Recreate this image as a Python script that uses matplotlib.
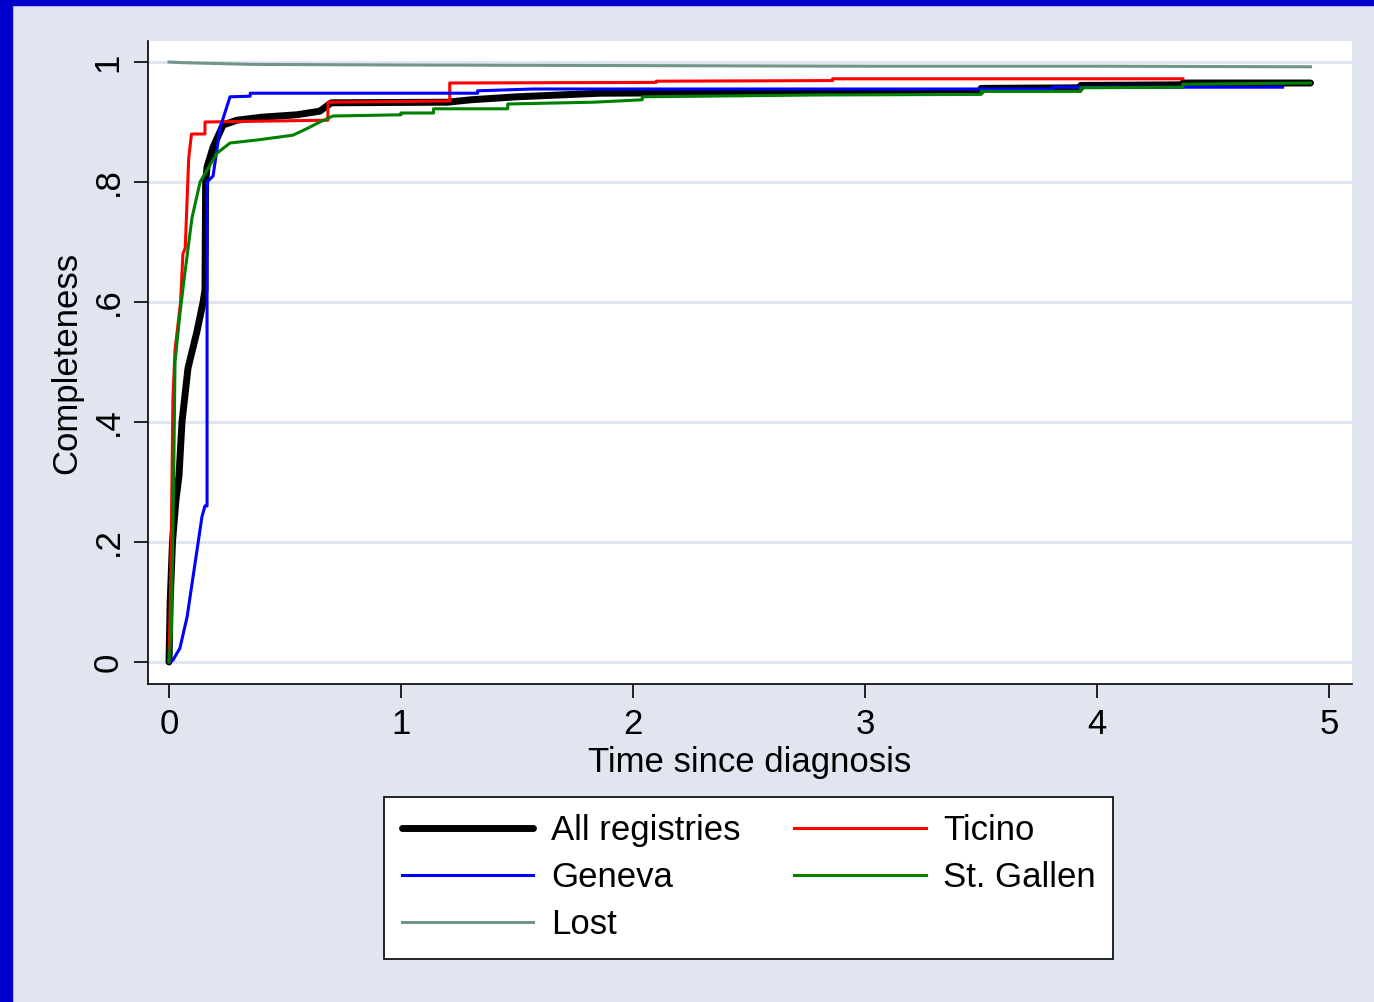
import matplotlib
matplotlib.use("Agg")
import matplotlib.pyplot as plt
from matplotlib.patches import Rectangle
from matplotlib.lines import Line2D

# Completeness curves by time since diagnosis (years)
all_x = [0, 0.005, 0.015, 0.03, 0.043, 0.056, 0.082, 0.12, 0.147, 0.155, 0.158, 0.164,
         0.19, 0.233, 0.293, 0.4, 0.55, 0.65, 0.685, 0.7, 1.2, 1.3, 1.5, 1.86, 2.5, 3.0,
         3.5, 3.5, 3.93, 3.93, 4.37, 4.37, 4.92]
all_y = [0, 0.1, 0.2, 0.27, 0.31, 0.40, 0.49, 0.55, 0.60, 0.62, 0.80, 0.825,
         0.858, 0.895, 0.903, 0.908, 0.912, 0.918, 0.928, 0.932, 0.933, 0.937, 0.942, 0.948, 0.949, 0.95,
         0.951, 0.956, 0.957, 0.961, 0.962, 0.965, 0.965]

ticino_x = [0, 0.008, 0.017, 0.026, 0.05, 0.06, 0.07, 0.085, 0.097, 0.155, 0.155,
            0.685, 0.685, 1.21, 1.21, 2.1, 2.1, 2.86, 2.86, 4.37]
ticino_y = [0, 0.15, 0.44, 0.52, 0.60, 0.68, 0.69, 0.84, 0.88, 0.88, 0.90,
            0.903, 0.933, 0.935, 0.965, 0.966, 0.968, 0.969, 0.972, 0.972]

geneva_x = [0, 0.017, 0.047, 0.078, 0.099, 0.121, 0.142, 0.155, 0.164, 0.164, 0.19,
            0.22, 0.263, 0.35, 0.35, 1.33, 1.33, 1.57, 3.81, 3.81, 4.8]
geneva_y = [0, 0.003, 0.023, 0.075, 0.13, 0.187, 0.242, 0.26, 0.26, 0.80, 0.81,
            0.89, 0.942, 0.943, 0.948, 0.948, 0.952, 0.955, 0.955, 0.958, 0.958]

stgallen_x = [0, 0.01, 0.02, 0.026, 0.047, 0.069, 0.099, 0.134, 0.207, 0.263, 0.38, 0.534,
              0.60, 0.65, 0.707, 1.0, 1.0, 1.14, 1.14, 1.46, 1.46, 1.83, 2.04, 2.04, 2.79,
              3.5, 3.5, 3.93, 3.93, 4.37, 4.37, 4.92]
stgallen_y = [0, 0.05, 0.3, 0.5, 0.58, 0.65, 0.74, 0.8, 0.848, 0.865, 0.87, 0.878,
              0.89, 0.9, 0.91, 0.912, 0.915, 0.915, 0.922, 0.922, 0.93, 0.933, 0.937, 0.942, 0.945,
              0.946, 0.951, 0.951, 0.957, 0.958, 0.963, 0.965]

lost_x = [0, 0.05, 0.15, 0.36, 1.0, 2.0, 3.0, 4.0, 4.92]
lost_y = [1.0, 0.999, 0.998, 0.996, 0.995, 0.994, 0.993, 0.993, 0.992]

y_ticks = [0, 0.2, 0.4, 0.6, 0.8, 1.0]
y_tick_labels = ['0', '.2', '.4', '.6', '.8', '1']
x_ticks = [0, 1, 2, 3, 4, 5]

BG = '#e0e5f0'
FS = 25
plt.rcParams['font.family'] = ['Liberation Sans', 'DejaVu Sans']

fig = plt.figure(figsize=(13.74, 10.02), dpi=100, facecolor=BG)
ax = fig.add_axes([148 / 1374, 1 - 684 / 1002, (1352 - 148) / 1374, (684 - 41) / 1002])
ax.set_facecolor('white')

# frame strips on left and top
fig.add_artist(Rectangle((0, 0), 12 / 1374, 1, transform=fig.transFigure, color='#0000cc', zorder=10))
fig.add_artist(Rectangle((0, 1 - 5 / 1002), 1, 5 / 1002, transform=fig.transFigure, color='#0000cc', zorder=10))

for yt in y_ticks:
    ax.axhline(yt, color=BG, lw=2.2, zorder=1)

ax.plot(all_x, all_y, color='black', lw=5, solid_capstyle='round', solid_joinstyle='round', zorder=3)
ax.plot(ticino_x, ticino_y, color='#ff0000', lw=2.2, zorder=4)
ax.plot(geneva_x, geneva_y, color='#0000ff', lw=2.2, zorder=4)
ax.plot(stgallen_x, stgallen_y, color='#008000', lw=2.2, zorder=5)
ax.plot(lost_x, lost_y, color='#739489', lw=2.2, zorder=4)

ax.set_xlim(-0.0905, 5.099)
ax.set_ylim(-0.0367, 1.035)

ax.spines['top'].set_visible(False)
ax.spines['right'].set_visible(False)
ax.spines['left'].set_linewidth(1.2)
ax.spines['bottom'].set_linewidth(1.2)

ax.set_xticks(x_ticks)
ax.set_xticklabels([str(t) for t in x_ticks], fontsize=FS)
ax.set_yticks(y_ticks)
ax.set_yticklabels(y_tick_labels, fontsize=FS, rotation=90, va='center')
ax.tick_params(axis='both', length=10, width=1.2, pad=7)

ax.set_xlabel('Time since diagnosis', fontsize=FS, labelpad=4)
ax.set_ylabel('Completeness', fontsize=FS, labelpad=6)

handles = [
    Line2D([0], [0], color='black', lw=5, solid_capstyle='round'),
    Line2D([0], [0], color='#0000ff', lw=2.2),
    Line2D([0], [0], color='#739489', lw=2.2),
    Line2D([0], [0], color='#ff0000', lw=2.2),
    Line2D([0], [0], color='#008000', lw=2.2),
]
labels = ['All registries', 'Geneva', 'Lost', 'Ticino', 'St. Gallen']
leg = fig.legend(handles, labels, ncol=2, loc='center', bbox_to_anchor=(0.545, 0.124),
                 fontsize=FS, frameon=True, fancybox=False, edgecolor='black',
                 facecolor='white', framealpha=1, handlelength=3.8, handletextpad=0.5,
                 columnspacing=1.55, labelspacing=0.4, borderpad=0.5)
leg.get_frame().set_linewidth(1.2)

fig.savefig('out.png', dpi=100, facecolor=BG)
